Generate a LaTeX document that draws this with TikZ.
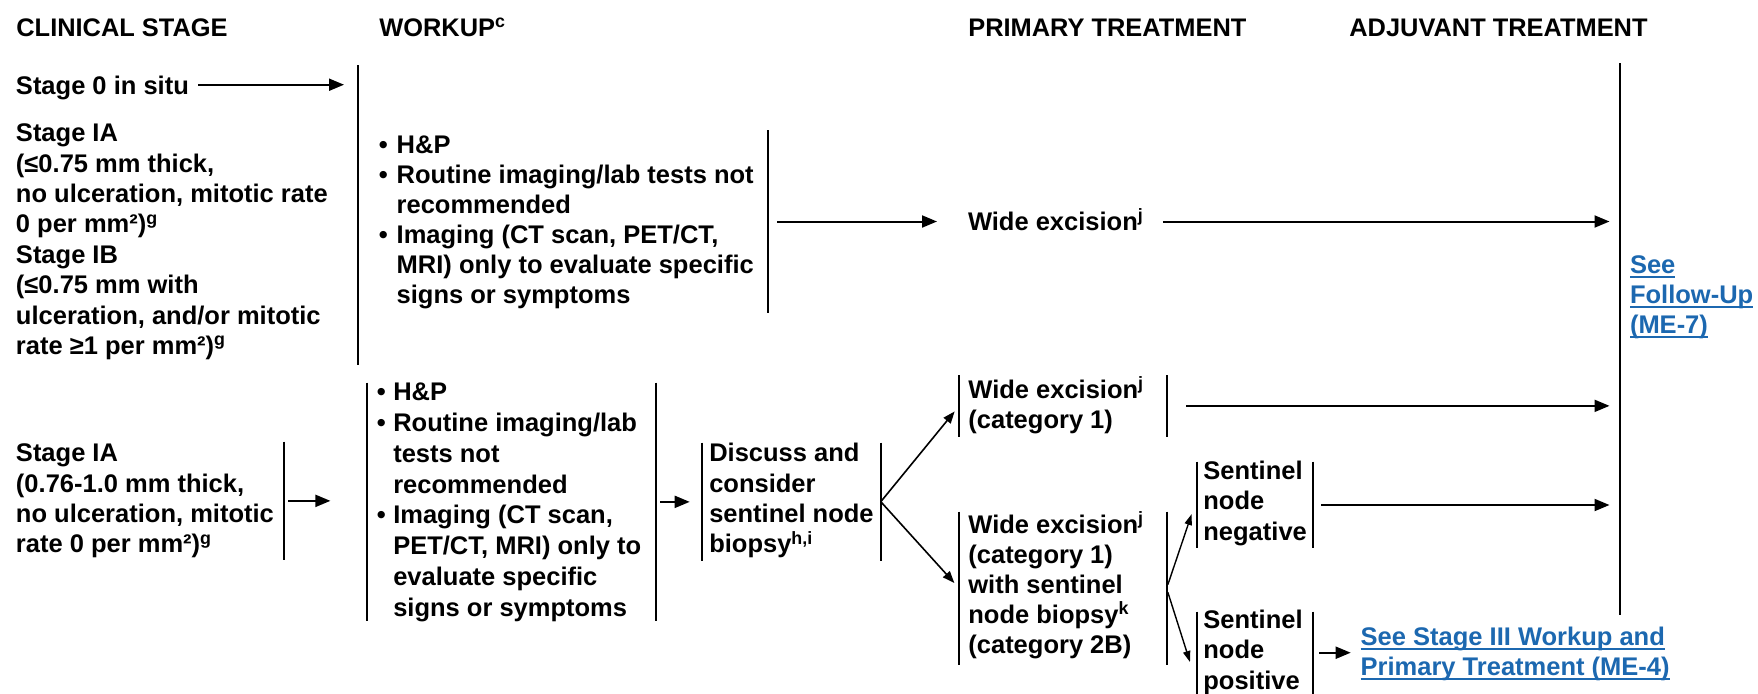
\documentclass[tikz,border=0pt]{standalone}
\usepackage{fontspec}
\setmainfont{Liberation Sans}
\usetikzlibrary{arrows.meta,fit}
\definecolor{lnkblue}{RGB}{28,104,176}
\newcommand\fst{\rule{0pt}{12pt}}
\newsavebox\lkbox
\newcommand\lk[1]{\sbox\lkbox{#1}\rlap{\rule[-2.4pt]{\wd\lkbox}{0.9pt}}\usebox\lkbox}
\newcommand\bl{\llap{\textbullet\hspace{4.5pt}}}
\newcommand\bls{\llap{\textbullet\hspace{3.7pt}}}
\begin{document}
\begin{tikzpicture}[x=0.5pt,y=-0.5pt,
  txt/.style={anchor=north west, inner sep=0pt, outer sep=0pt, align=left, yshift=12pt,
    font=\fontsize{12.75pt}{15.2pt}\selectfont\bfseries},
  tight/.style={font=\fontsize{12.75pt}{15pt}\selectfont\bfseries},
  loose/.style={font=\fontsize{12.75pt}{15.4pt}\selectfont\bfseries},
  lnkt/.style={txt, text=lnkblue},
  hdr/.style={anchor=base west, inner sep=0pt, font=\fontsize{12.7pt}{15pt}\selectfont\bfseries},
  frm/.style={inner sep=0pt, outer sep=0pt},
  bar/.style={line width=1pt, black},
  arr/.style={line width=1pt, -{Triangle[length=7.5pt,width=6pt]}},
  arrs/.style={line width=0.8pt, -{Triangle[length=6pt,width=4.5pt]}},
  arrt/.style={line width=0.7pt, -{Triangle[length=5.5pt,width=3.6pt]}}
]
\fill[white] (0,0) rectangle (1758,693);
\useasboundingbox (0,0) rectangle (1758,693);

% headers
\node[hdr] (hcs) at (16,36) {CLINICAL STAGE};
\node[hdr] (hwu) at (379,36) {WORKUP\textsuperscript{c}};
\node[hdr] (hpt) at (968,36) {PRIMARY TREATMENT};
\node[hdr] (hat) at (1349,36) {ADJUVANT TREATMENT};

% frames
\node[frm, fit={(16,65) (358,365)}] (stg1) {};
\node[frm, fit={(396,130) (768,313)}] (wu1) {};
\node[frm, fit={(1620,63) (1758,615)}] (fu) {};
\node[frm, fit={(16,441.7) (284,560)}] (stg2) {};
\node[frm, fit={(367.4,382.7) (656.3,621)}] (wu2) {};
\node[frm, fit={(701.7,442.7) (880.8,560.7)}] (disc) {};
\node[frm, fit={(959.2,375) (1166.6,436.7)}] (we1) {};
\node[frm, fit={(959.2,511.7) (1166.6,665)}] (we2) {};
\node[frm, fit={(1197.4,461.7) (1313.2,548.3)}] (sneg) {};
\node[frm, fit={(1197.4,611.7) (1313.2,693.7)}] (spos) {};

% bars
\draw[bar] (stg1.north east) -- (stg1.south east);
\draw[bar] (wu1.north east) -- (wu1.south east);
\draw[bar] (fu.north west) -- (fu.south west);
\draw[bar] (stg2.north east) -- (stg2.south east);
\foreach \f in {wu2,disc,we1,we2,sneg,spos}{
  \draw[bar] (\f.north west) -- (\f.south west);
  \draw[bar] (\f.north east) -- (\f.south east);
}

% texts, top
\node[txt] (s0) at (16,94) {\fst Stage 0 in situ};
\node[txt] (s1) at (16,141.7) {\fst Stage IA\\(≤0.75 mm thick,\\no ulceration, mitotic rate\\0 per mm²)\textsuperscript{g}\\Stage IB\\(≤0.75 mm with\\ulceration, and/or mitotic\\rate ≥1 per mm²)\textsuperscript{g}};
\node[txt, tight] (w1) at (396.7,153.3) {\fst\bl H\&P\\\bl Routine imaging/lab tests not\\recommended\\\bl Imaging (CT scan, PET/CT,\\MRI) only to evaluate specific\\signs or symptoms};
\node[txt] (we0) at (968,230) {\fst Wide excision\textsuperscript{j}};
\node[lnkt, tight] (fut) at (1630,273.3) {\fst\lk{See}\\\lk{Follow-Up}\\\lk{(ME-7)}};

% texts, bottom
\node[txt] (s2) at (16,461.7) {\fst Stage IA\\(0.76-1.0 mm thick,\\no ulceration, mitotic\\rate 0 per mm²)\textsuperscript{g}};
\node[txt, loose] (w2) at (393.3,400.7) {\fst\bls H\&P\\\bls Routine imaging/lab\\tests not\\recommended\\\bls Imaging (CT scan,\\PET/CT, MRI) only to\\evaluate specific\\signs or symptoms};
\node[txt] (dt) at (709.3,461.7) {\fst Discuss and\\consider\\sentinel node\\biopsy\textsuperscript{h,i}};
\node[txt] (we1t) at (968.4,398.3) {\fst Wide excision\textsuperscript{j}\\(category 1)};
\node[txt, tight] (we2t) at (968.4,533.3) {\fst Wide excision\textsuperscript{j}\\(category 1)\\with sentinel\\node biopsy\textsuperscript{k}\\(category 2B)};
\node[txt] (snt) at (1203.4,479.3) {\fst Sentinel\\node\\negative};
\node[txt] (spt) at (1203.4,628.3) {\fst Sentinel\\node\\positive};
\node[lnkt, tight] (st3) at (1360.7,645) {\fst\lk{See Stage III Workup and}\\\lk{Primary Treatment (ME-4)}};

% connectors, top
\draw[arr, shorten <=4.75pt, shorten >=7pt] (s0.east) -- (s0.east -| stg1.east);
\draw[arr, shorten <=4.5pt, shorten >=15.5pt] (wu1.east) -- (wu1.east -| we0.west);
\draw[arr, shorten <=9.5pt, shorten >=5.25pt] (we0.east |- wu1.east) -- (wu1.east -| fu.west);

% connectors, bottom
\draw[arr, shorten <=2pt, shorten >=18.5pt] (stg2.east) -- (stg2.east -| wu2.west);
\draw[arr, shorten <=2pt, shorten >=6pt] (wu2.east) -- (wu2.east -| disc.west);
\draw[arrs, shorten >=3.6pt] (disc.east) -- (we1.west);
\draw[arrs, shorten >=3.6pt] (disc.east) -- (we2.west);
\draw[arr, shorten <=9.7pt, shorten >=5.25pt] (we1.east) -- (we1.east -| fu.west);
\coordinate (snU) at (1191.7,514);
\coordinate (snD) at (1190,662);
\draw[arrt, shorten <=2pt] (we2.east) -- (snU);
\draw[arrt, shorten <=2pt] (we2.east) -- (snD);
\draw[arr, shorten <=4pt, shorten >=5.25pt] (sneg.east) -- (sneg.east -| fu.west);
\draw[arr, shorten <=3pt, shorten >=5pt] (spos.east) -- (spos.east -| st3.west);
\end{tikzpicture}
\end{document}
